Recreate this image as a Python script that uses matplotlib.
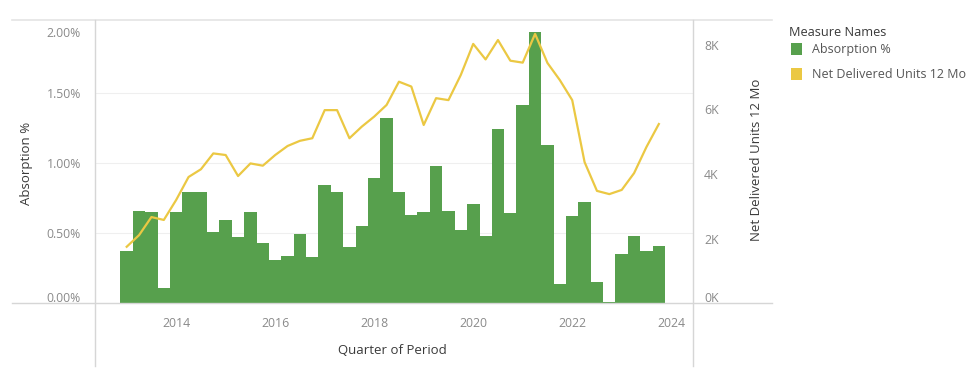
import matplotlib
matplotlib.use("Agg")
import matplotlib.pyplot as plt
from matplotlib.lines import Line2D
from matplotlib.patches import Rectangle
import matplotlib.transforms as mtransforms

# ---- data -------------------------------------------------------------
years = list(range(2013, 2024))
quarter_offsets = [0.0, 0.25, 0.5, 0.75]
periods = [y + q for y in years for q in quarter_offsets]

absorption_pct = [0.37, 0.66, 0.65, 0.11, 0.65, 0.79, 0.79, 0.51, 0.59, 0.47,
                  0.65, 0.43, 0.31, 0.34, 0.49, 0.33, 0.84, 0.79, 0.40, 0.55,
                  0.89, 1.32, 0.79, 0.63, 0.65, 0.98, 0.66, 0.52, 0.71, 0.48,
                  1.24, 0.64, 1.41, 1.93, 1.13, 0.14, 0.62, 0.72, 0.15, 0.01,
                  0.35, 0.48, 0.37, 0.41]

net_delivered_units = [1750, 2110, 2670, 2580, 3200, 3910, 4150, 4640, 4590, 3940,
                       4330, 4260, 4590, 4870, 5030, 5110, 5980, 5980, 5110, 5470,
                       5780, 6140, 6860, 6710, 5520, 6350, 6290, 7070, 8030, 7550,
                       8150, 7510, 7450, 8340, 7440, 6910, 6290, 4370, 3480, 3380,
                       3510, 4030, 4840, 5550]

year_ticks = [2014, 2016, 2018, 2020, 2022, 2024]
pct_ticks = [0.0, 0.5, 1.0, 1.5, 2.0]
pct_labels = ["0.00%", "0.50%", "1.00%", "1.50%", "2.00%"]
unit_ticks = [0, 2000, 4000, 6000, 8000]
unit_labels = ["0K", "2K", "4K", "6K", "8K"]

series_names = ["Absorption %", "Net Delivered Units 12 Mo"]

# ---- style ------------------------------------------------------------
GREEN = "#57a04d"
YELLOW = "#ebc843"
TICK_C = "#8a8a8a"
TITLE_C = "#3a3a3a"
RULE_C = "#d6d6d6"
TICK_FS = 8.8
TITLE_FS = 9.5
plt.rcParams["font.family"] = ["Open Sans", "DejaVu Sans"]

W, H = 979, 368
fig = plt.figure(figsize=(W / 100, H / 100), dpi=100)

def fx(px):
    return px / W

def fy(py):
    return 1 - py / H

ax_left, ax_right, ax_top, ax_bottom = 95, 693, 20, 303.3
ax = fig.add_axes([fx(ax_left), fy(ax_bottom), fx(ax_right - ax_left), (ax_bottom - ax_top) / H])
ax2 = ax.twinx()

ax.set_xlim(2012.36, 2024.44)
ax.set_ylim(0, 2.016)
ax2.set_ylim(0, 8770)

for a in (ax, ax2):
    for s in a.spines.values():
        s.set_visible(False)
    a.tick_params(length=0)

# faint gridlines
for v in pct_ticks[1:-1]:
    ax.axhline(v, color="#efefef", lw=0.8, zorder=0)

ax.bar(periods, absorption_pct, width=0.255, color=GREEN, linewidth=0, zorder=2)
ax2.plot(periods, net_delivered_units, color=YELLOW, lw=1.6, zorder=3)
ax.set_zorder(ax2.get_zorder() - 1)
ax.patch.set_visible(False)

# ticks
ax.set_xticks(year_ticks)
ax.set_xticklabels([str(y) for y in year_ticks], color=TICK_C, fontsize=TICK_FS)
ax.tick_params(axis="x", pad=10)
ax.set_yticks(pct_ticks)
ax.set_yticklabels(pct_labels, color=TICK_C, fontsize=TICK_FS)
ax.tick_params(axis="y", pad=10)
ax2.set_yticks(unit_ticks)
ax2.set_yticklabels(unit_labels, color=TICK_C, fontsize=TICK_FS)
ax2.tick_params(axis="y", pad=8)

# keep edge labels inside the pane
for lab_list in (ax.get_yticklabels(), ax2.get_yticklabels()):
    lab_list[0].set_transform(lab_list[0].get_transform() +
                              mtransforms.ScaledTranslation(0, 6 / 100, fig.dpi_scale_trans))
ax.get_yticklabels()[-1].set_transform(ax.get_yticklabels()[-1].get_transform() +
                                       mtransforms.ScaledTranslation(0, -10 / 100, fig.dpi_scale_trans))

# axis titles
fig.text(fx(27), fy(163), "Absorption %", rotation=90, ha="center", va="center",
         color=TITLE_C, fontsize=TITLE_FS)
fig.text(fx(757), fy(160), "Net Delivered Units 12 Mo", rotation=90, ha="center",
         va="center", color=TITLE_C, fontsize=TITLE_FS)
fig.text(fx(392), fy(351), "Quarter of Period", ha="center", va="center",
         color=TITLE_C, fontsize=TITLE_FS)

# pane rules
fig.add_artist(Line2D([fx(12), fx(772)], [fy(20), fy(20)], color="#e4e4e4", lw=1.2))
fig.add_artist(Line2D([fx(12), fx(772)], [fy(303.3), fy(303.3)], color=RULE_C, lw=1.0))
fig.add_artist(Line2D([fx(95), fx(95)], [fy(20), fy(366)], color=RULE_C, lw=1.0))
fig.add_artist(Line2D([fx(693), fx(693)], [fy(20), fy(366)], color=RULE_C, lw=1.0))

# legend
fig.text(fx(789), fy(32), "Measure Names", ha="left", va="center", color=TITLE_C,
         fontsize=9.2)
fig.add_artist(Rectangle((fx(791), fy(55)), fx(11), 12 / H, color=GREEN, lw=0))
fig.add_artist(Rectangle((fx(791), fy(80)), fx(11), 12 / H, color=YELLOW, lw=0))
fig.text(fx(812), fy(49), series_names[0], ha="left", va="center", color="#555555",
         fontsize=9)
fig.text(fx(812), fy(74), series_names[1], ha="left", va="center", color="#555555",
         fontsize=9)

fig.savefig("out.png", dpi=100)
